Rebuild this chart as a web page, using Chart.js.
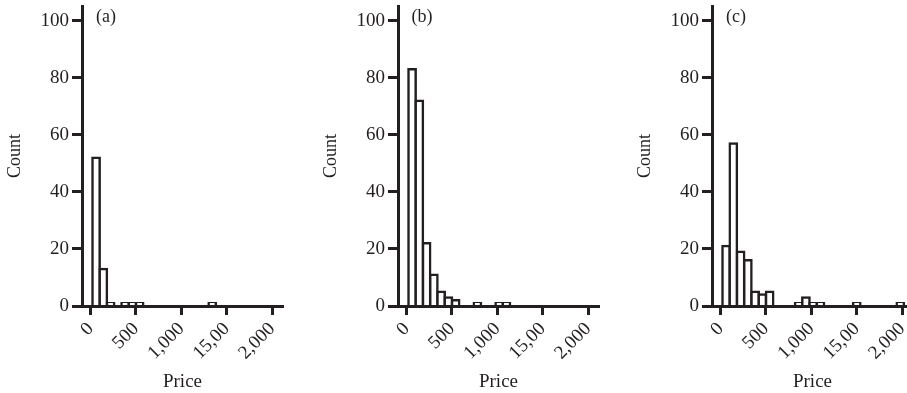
<!DOCTYPE html>
<html>
<head>
<meta charset="utf-8">
<script src="https://cdn.jsdelivr.net/npm/chart.js@4/dist/chart.umd.min.js"></script>
<style>
  html, body { margin: 0; padding: 0; background: #fff; overflow: hidden; width: 907px; height: 393px; }
  canvas { position: absolute; top: 0; }
</style>
</head>
<body>
<canvas id="chartA" width="300" height="393" style="left:0px"></canvas>
<canvas id="chartB" width="300" height="393" style="left:316px"></canvas>
<canvas id="chartC" width="300" height="393" style="left:630px"></canvas>
<script>
// histogram bins (bin centres, width 80)
const binCenters = [60, 140, 220, 300, 380, 460, 540, 620, 700, 780, 860, 940, 1020,
                    1100, 1180, 1260, 1340, 1420, 1500, 1580, 1660, 1740, 1820, 1900, 1980];
const countsA = [52, 13, 1, 0, 1, 1, 1, 0, 0, 0, 0, 0, 0, 0, 0, 0, 1, 0, 0, 0, 0, 0, 0, 0, 0];
const countsB = [83, 72, 22, 11, 5, 3, 2, 0, 0, 1, 0, 0, 1, 1, 0, 0, 0, 0, 0, 0, 0, 0, 0, 0, 0];
const countsC = [21, 57, 19, 16, 5, 4, 5, 0, 0, 0, 1, 3, 1, 1, 0, 0, 0, 0, 1, 0, 0, 0, 0, 0, 1];

const xTicks = [0, 500, 1000, 1500, 2000];
const xTickLabels = ['0', '500', '1,000', '15,00', '2,000'];
const yTicks = [0, 20, 40, 60, 80, 100];
const panelLabels = ['(a)', '(b)', '(c)'];

const ink = '#231f20';
Chart.defaults.font.family = '"Liberation Serif", "Times New Roman", serif';
Chart.defaults.color = ink;

// little "(a)" tag in the top left corner of each plot
const panelTag = {
  id: 'panelTag',
  afterDraw(chart, args, opts) {
    const ctx = chart.ctx;
    ctx.save();
    ctx.font = '18px "Liberation Serif"';
    ctx.fillStyle = ink;
    ctx.textAlign = 'center';
    ctx.textBaseline = 'middle';
    ctx.fillText(opts.text, chart.chartArea.left + 24, chart.chartArea.top + 11);
    ctx.restore();
  }
};

function makePanel(id, counts, label) {
  const ctx = document.getElementById(id).getContext('2d');
  return new Chart(ctx, {
    type: 'bar',
    data: {
      datasets: [{
        label: 'Count',
        data: binCenters.map((x, i) => ({ x: x, y: counts[i] })),
        backgroundColor: '#fff',
        borderColor: ink,
        borderWidth: 2.5,
        inflateAmount: 1.25,
        barPercentage: 1,
        categoryPercentage: 1
      }]
    },
    options: {
      responsive: false,
      animation: false,
      layout: { padding: { top: 6, right: 17, left: 0, bottom: 0 } },
      plugins: {
        legend: { display: false },
        tooltip: { enabled: false },
        panelTag: { text: label }
      },
      scales: {
        x: {
          type: 'linear',
          min: -95,
          max: 2120,
          offset: false,
          grid: { drawOnChartArea: false, offset: false, tickLength: 9, tickWidth: 3, tickColor: ink },
          border: { display: true, width: 3, color: ink, z: 1 },
          ticks: {
            autoSkip: false,
            minRotation: 45,
            maxRotation: 45,
            padding: 3,
            font: { size: 19 },
            callback: (value) => xTickLabels[xTicks.indexOf(value)]
          },
          afterBuildTicks: (s) => { s.ticks = xTicks.map(v => ({ value: v })); },
          afterFit: (s) => { s.height = 87; s.paddingLeft = 0; s.paddingRight = 0; },
          title: { display: true, text: 'Price', font: { size: 19 }, padding: { top: 0, bottom: 0 } }
        },
        y: {
          min: 0,
          max: 105.2,
          grid: { drawOnChartArea: false, tickLength: 10, tickWidth: 3, tickColor: ink },
          border: { display: true, width: 3, color: ink, z: 1 },
          ticks: { padding: 3, font: { size: 19 } },
          afterBuildTicks: (s) => { s.ticks = yTicks.map(v => ({ value: v })); },
          afterFit: (s) => { s.width = 82; s.paddingTop = 0; s.paddingBottom = 0; },
          title: { display: true, text: 'Count', font: { size: 18 }, padding: { top: 4, bottom: 0 } }
        }
      }
    },
    plugins: [panelTag]
  });
}

makePanel('chartA', countsA, panelLabels[0]);
makePanel('chartB', countsB, panelLabels[1]);
makePanel('chartC', countsC, panelLabels[2]);
</script>
</body>
</html>
